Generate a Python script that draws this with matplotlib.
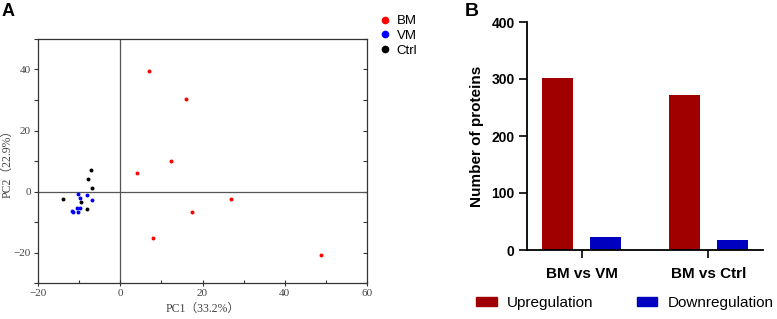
import numpy as np
import matplotlib
matplotlib.use("Agg")
import matplotlib.pyplot as plt
from matplotlib.patches import Patch
from matplotlib.lines import Line2D
from matplotlib.ticker import MultipleLocator

# ---- panel A: PCA scores ----
bm_x = [7.1, 16.0, 12.3, 4.1, 26.9, 17.4, 7.9, 48.8]
bm_y = [39.5, 30.2, 10.0, 6.0, -2.4, -6.7, -15.4, -20.9]
vm_x = [-10.3, -9.7, -8.0, -6.8, -10.6, -9.9, -11.7, -11.6, -10.2]
vm_y = [-0.9, -2.1, -1.2, -2.9, -5.4, -5.4, -6.4, -6.7, -6.7]
ctrl_x = [-7.0, -7.8, -6.8, -14.0, -9.5, -8.1]
ctrl_y = [7.0, 4.0, 1.1, -2.4, -3.3, -5.7]
groups = ["BM", "VM", "Ctrl"]
group_cols = ["#ff0000", "#0000ff", "#000000"]

# ---- panel B: differential proteins ----
comparisons = ["BM vs VM", "BM vs Ctrl"]
upregulation = [301, 272]
downregulation = [23, 18]

SERIF = ["Liberation Serif", "Noto Sans CJK SC"]
SANS = "Liberation Sans"
GREY = "#333333"

fig = plt.figure(figsize=(7.77, 3.19), dpi=100)

axA = fig.add_axes([38 / 777, 36 / 319, 329 / 777, 244 / 319])
for (xs, ys), c in zip([(bm_x, bm_y), (vm_x, vm_y), (ctrl_x, ctrl_y)], group_cols):
    axA.scatter(xs, ys, s=8, color=c, linewidths=0, zorder=3)
axA.axhline(0, color="#555555", lw=0.9, zorder=1)
axA.axvline(0, color="#555555", lw=0.9, zorder=1)
axA.set_xlim(-20, 60); axA.set_ylim(-30, 50)
axA.set_xticks([-20, 0, 20, 40, 60]); axA.set_yticks([-20, 0, 20, 40])
axA.xaxis.set_minor_locator(MultipleLocator(10)); axA.yaxis.set_minor_locator(MultipleLocator(10))
axA.tick_params(axis="x", which="major", direction="inout", length=5, width=0.8, color=GREY)
axA.tick_params(axis="x", which="minor", direction="in", length=2.5, width=0.8, color=GREY)
axA.tick_params(axis="y", which="both", direction="out", length=3, width=0.8, color=GREY)
axA.tick_params(which="both", labelsize=8, labelcolor="#444444", pad=2)
for lab in axA.get_xticklabels() + axA.get_yticklabels():
    lab.set_family(SERIF)
right = axA.secondary_yaxis("right")
right.set_yticks([-20, 0, 20, 40]); right.yaxis.set_minor_locator(MultipleLocator(10))
right.tick_params(which="both", direction="in", length=3, width=0.8, color=GREY, labelright=False)
right.spines["right"].set_visible(False)
for s in axA.spines.values():
    s.set_linewidth(0.9); s.set_color(GREY)
axA.set_xlabel("PC1（33.2%）", family=SERIF, fontsize=8.5, color="#444444", labelpad=3)
axA.set_ylabel("PC2（22.9%）", family=SERIF, fontsize=8.5, color="#444444", labelpad=0.5)
handles = [Line2D([], [], marker="o", ls="", color=c, markersize=4.5) for c in group_cols]
fig.legend(handles, groups, loc="upper left", bbox_to_anchor=(380 / 777, 1 - 15 / 319),
           frameon=False, prop={"family": SANS, "size": 9.5}, handlelength=0.8,
           handletextpad=0.45, labelspacing=0.2, borderaxespad=0, borderpad=0)
fig.text(2 / 777, 1 - 3 / 319, "A", fontsize=13, fontweight="bold", va="top", family=SANS)

# ---- panel B ----
axB = fig.add_axes([527 / 777, 69 / 319, 236 / 777, 228 / 319])
x = np.arange(len(comparisons))
w = 0.244
axB.bar(x - 0.189, upregulation, w, color="#a00000", label="Upregulation")
axB.bar(x + 0.189, downregulation, w, color="#0000c0", label="Downregulation")
axB.set_xlim(-0.43, 1.43); axB.set_ylim(0, 400)
axB.set_yticks([0, 100, 200, 300, 400])
axB.set_xticks(x)
axB.set_xticklabels(comparisons, fontsize=11, fontweight="bold", family=SANS)
for lab in axB.get_yticklabels():
    lab.set_fontweight("bold"); lab.set_family(SANS); lab.set_fontsize(10)
axB.tick_params(axis="both", direction="out", length=6, width=1.2)
axB.tick_params(axis="x", pad=6)
axB.tick_params(axis="y", pad=3)
axB.spines[["top", "right"]].set_visible(False)
axB.spines[["left", "bottom"]].set_linewidth(1.3)
axB.set_ylabel("Number of proteins", fontsize=11, fontweight="bold", family=SANS, labelpad=5)
fig.legend(handles=[Patch(color="#a00000"), Patch(color="#0000c0")],
           labels=["Upregulation", "Downregulation"], loc="center left",
           bbox_to_anchor=(476 / 777, 1 - 303 / 319), ncol=2, frameon=False,
           prop={"family": SANS, "size": 11}, handlelength=1.35, handleheight=0.6,
           columnspacing=2.8, handletextpad=0.7, borderaxespad=0, borderpad=0)
fig.text(465 / 777, 1 - 3 / 319, "B", fontsize=14, fontweight="bold", va="top", family=SANS)

fig.savefig("out.png", dpi=100)
